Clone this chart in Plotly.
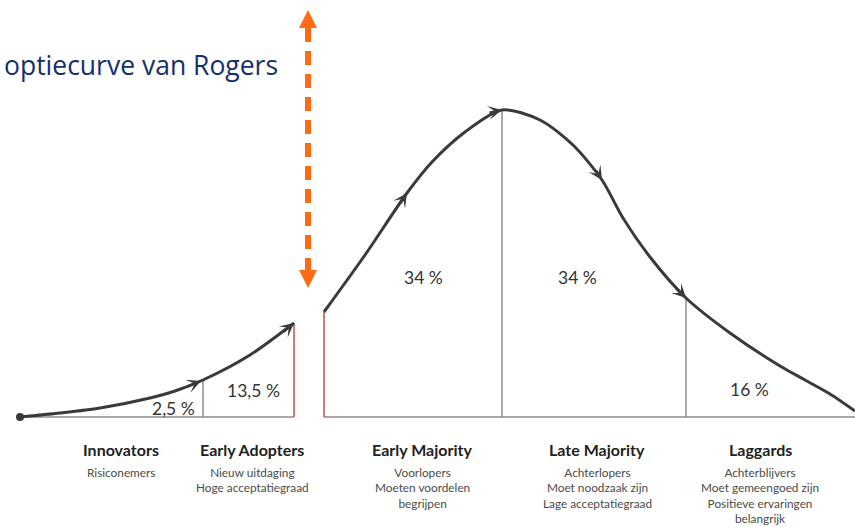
import plotly.graph_objects as go

# ---- data ----
title_text = "optiecurve van Rogers"

# curve, left of the chasm (x position, height above baseline)
left_x = [20, 60, 100, 150, 175, 203, 250, 294]
left_h = [0, 4, 9, 19, 26, 37, 62, 94]
# curve, right of the chasm
right_x = [324, 365, 407, 432, 465, 502, 540, 573, 602, 623, 650, 686, 730, 780, 805, 830, 855]
right_h = [105, 162, 224, 255, 285, 307, 297, 272, 237, 199, 160, 119, 84, 51, 37, 23, 6]

# segment boundaries (x, height, colour key)
bound_x = [203, 294, 324, 502, 686]
bound_h = [37, 94, 105, 307, 119]
bound_kind = ["grey", "red", "red", "grey", "grey"]

# percentages
pct_labels = ["2,5 %", "13,5 %", "34 %", "34 %", "16 %"]
pct_x = [173, 253, 423, 577, 749]
pct_h = [9, 27, 140, 140, 28]

# groups
groups = ["Innovators", "Early Adopters", "Early Majority", "Late Majority", "Laggards"]
group_x = [121, 252, 422, 597, 760]
group_desc = [
    ["Risiconemers"],
    ["Nieuw uitdaging", "Hoge acceptatiegraad"],
    ["Voorlopers", "Moeten voordelen", "begrijpen"],
    ["Achterlopers", "Moet noodzaak zijn", "Lage acceptatiegraad"],
    ["Achterblijvers", "Moet gemeengoed zijn", "Positieve ervaringen", "belangrijk"],
]

# arrowheads along the curve: tip and tail
arrow_tip_x = [201, 294, 407, 502, 602, 686]
arrow_tip_h = [36, 94, 224, 307, 237, 119]
arrow_tail_x = [186, 282, 399, 488, 595, 675]
arrow_tail_h = [30, 84, 212, 304, 248, 130]

# chasm arrow
chasm_x = 308
chasm_top = 407
chasm_bottom = 129

# ---- figure ----
W, H = 855, 527
baseline_px = 417
CURVE = "#3a3a3a"
GREY = "#8c8c8c"
RED = "#c0504d"
ORANGE = "#ff6a14"
TEXT = "#333333"
SUB = "#4a4a4a"
NAVY = "#15306e"
FONT = "Lato"

fig = go.Figure()

# baseline
fig.add_trace(go.Scatter(x=[left_x[0], left_x[-1]], y=[0, 0], mode="lines",
                         line=dict(color=GREY, width=1.6), hoverinfo="skip"))
fig.add_trace(go.Scatter(x=[right_x[0], right_x[-1]], y=[0, 0], mode="lines",
                         line=dict(color=GREY, width=1.6), hoverinfo="skip"))

# boundaries
for bx, bh, k in zip(bound_x, bound_h, bound_kind):
    fig.add_trace(go.Scatter(x=[bx, bx], y=[0, bh], mode="lines",
                             line=dict(color=RED if k == "red" else GREY, width=1.5),
                             hoverinfo="skip"))

# curves
fig.add_trace(go.Scatter(x=left_x, y=left_h, mode="lines",
                         line=dict(color=CURVE, width=3, shape="spline", smoothing=0.8),
                         hoverinfo="skip"))
fig.add_trace(go.Scatter(x=right_x, y=right_h, mode="lines",
                         line=dict(color=CURVE, width=3, shape="spline", smoothing=0.8),
                         hoverinfo="skip"))
# start dot
fig.add_trace(go.Scatter(x=[left_x[0]], y=[left_h[0]], mode="markers",
                         marker=dict(color=CURVE, size=8), hoverinfo="skip"))

annotations = []
for tx, th, ax, ay in zip(arrow_tip_x, arrow_tip_h, arrow_tail_x, arrow_tail_h):
    annotations.append(dict(x=tx, y=th, ax=ax, ay=ay, xref="x", yref="y",
                            axref="x", ayref="y", text="", showarrow=True,
                            arrowhead=3, arrowsize=0.9, arrowwidth=2.6,
                            arrowcolor=CURVE, standoff=0))

for t, px_, ph in zip(pct_labels, pct_x, pct_h):
    annotations.append(dict(x=px_, y=ph, xref="x", yref="y", text=t, showarrow=False,
                            font=dict(family=FONT, size=17.5, color=TEXT),
                            xanchor="center", yanchor="middle"))

label_y = baseline_px - 449
desc_y = baseline_px - 463
for g, gx, desc in zip(groups, group_x, group_desc):
    annotations.append(dict(x=gx, y=label_y, xref="x", yref="y", text="<b>" + g + "</b>",
                            showarrow=False, font=dict(family=FONT, size=16, color="#222222"),
                            xanchor="center", yanchor="middle"))
    annotations.append(dict(x=gx, y=desc_y, xref="x", yref="y", text="<br>".join(desc),
                            showarrow=False, font=dict(family=FONT, size=11.8, color=SUB),
                            xanchor="center", yanchor="top", align="center"))

annotations.append(dict(x=2, y=baseline_px - 65, xref="x", yref="y", text=title_text,
                        showarrow=False, font=dict(family="Open Sans", size=26.5, color=NAVY),
                        xanchor="left", yanchor="middle"))

# chasm arrow: dashed shaft + two heads
head_len = 18
head_half = 9
shapes = [
    dict(type="line", xref="x", yref="y", x0=chasm_x, x1=chasm_x,
         y0=chasm_bottom + head_len - 2, y1=chasm_top - head_len + 2,
         line=dict(color=ORANGE, width=6, dash="14px,9px")),
    dict(type="path", xref="x", yref="y", fillcolor=ORANGE, line=dict(width=0),
         path=f"M {chasm_x - head_half},{chasm_top - head_len} L {chasm_x + head_half},{chasm_top - head_len} L {chasm_x},{chasm_top} Z"),
    dict(type="path", xref="x", yref="y", fillcolor=ORANGE, line=dict(width=0),
         path=f"M {chasm_x - head_half},{chasm_bottom + head_len} L {chasm_x + head_half},{chasm_bottom + head_len} L {chasm_x},{chasm_bottom} Z"),
]

fig.update_layout(
    width=W, height=H, margin=dict(l=0, r=0, t=0, b=0),
    paper_bgcolor="white", plot_bgcolor="white", showlegend=False,
    xaxis=dict(range=[0, W], visible=False, fixedrange=True),
    yaxis=dict(range=[baseline_px - H, baseline_px], visible=False, fixedrange=True),
    annotations=annotations, shapes=shapes,
)

fig.write_html(
    "out.html",
    config={"displayModeBar": False},
    post_script="document.body.style.margin='0';document.body.style.overflow='hidden';",
)
